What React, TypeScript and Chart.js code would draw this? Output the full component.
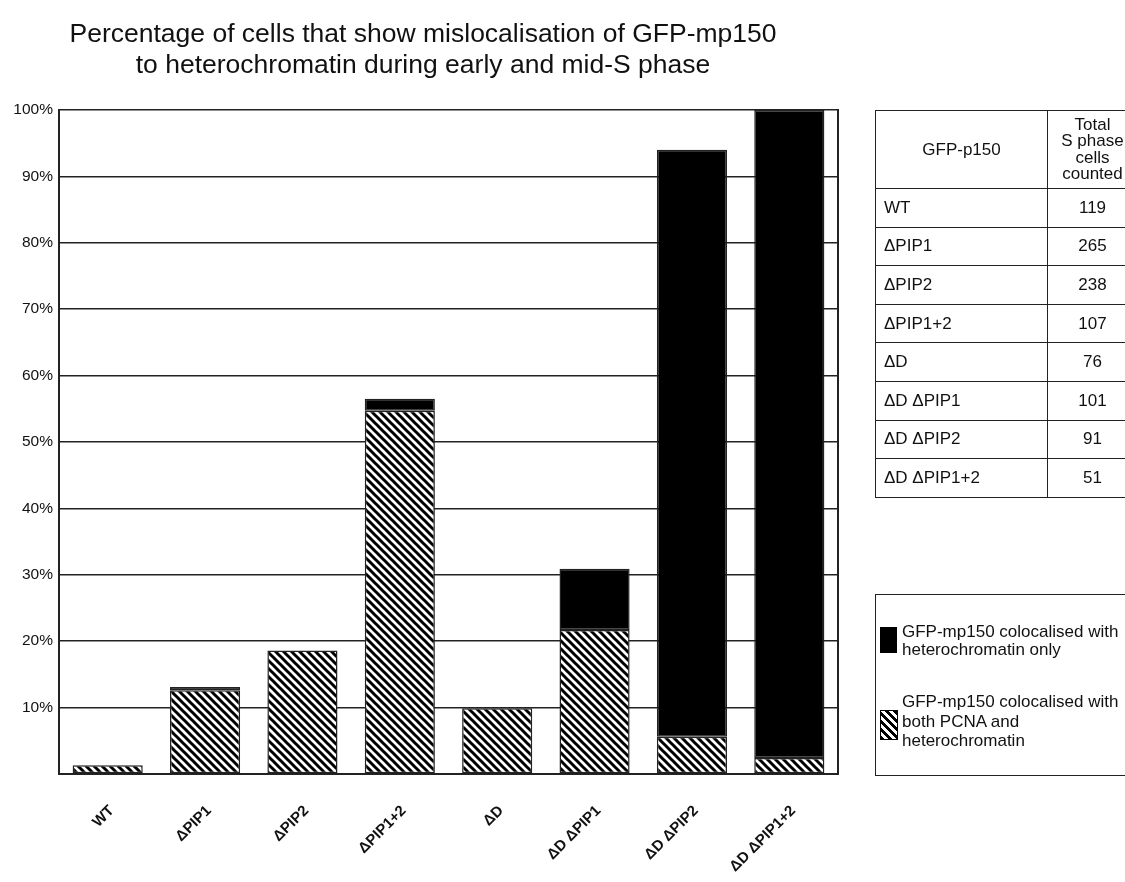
import React, { useEffect, useRef } from "react";
import { Chart, registerables } from "chart.js";

Chart.register(...registerables);

const titleLines = [
  "Percentage of cells that show mislocalisation of GFP-mp150",
  "to heterochromatin during early and mid-S phase",
];
const categories = ["WT", "ΔPIP1", "ΔPIP2", "ΔPIP1+2", "ΔD", "ΔD ΔPIP1", "ΔD ΔPIP2", "ΔD ΔPIP1+2"];
const bothPcnaHetero = [1.3, 12.6, 18.6, 54.7, 9.9, 21.7, 5.6, 2.4];
const heteroOnly: (number | null)[] = [null, 0.5, null, 1.8, null, 9.2, 88.4, 97.6];
const totalCounted = [119, 265, 238, 107, 76, 101, 91, 51];
const seriesNames = [
  "GFP-mp150 colocalised with both PCNA and heterochromatin",
  "GFP-mp150 colocalised with heterochromatin only",
];
const legendLines = [
  ["GFP-mp150 colocalised with", "heterochromatin only"],
  ["GFP-mp150 colocalised with", "both PCNA and", "heterochromatin"],
];
const tableHeader = ["GFP-p150", ["Total", "S phase", "cells", "counted"]];

const FONT = '"Liberation Sans", Arial, Helvetica, sans-serif';

function makeHatch(): CanvasPattern | string {
  const c = document.createElement("canvas");
  c.width = 8;
  c.height = 8;
  const g = c.getContext("2d");
  if (!g) return "#000";
  g.fillStyle = "#fff";
  g.fillRect(0, 0, 8, 8);
  g.strokeStyle = "#000";
  g.lineWidth = 3;
  g.lineCap = "square";
  for (const k of [-8, 0, 8]) {
    g.beginPath();
    g.moveTo(k, 0);
    g.lineTo(k + 8, 8);
    g.stroke();
  }
  const p = g.createPattern(c, "repeat");
  return p || "#000";
}

const rightBorder = {
  id: "rightBorder",
  afterDatasetsDraw(chart: any) {
    const { ctx, chartArea } = chart;
    ctx.save();
    ctx.strokeStyle = "#222";
    ctx.lineWidth = 2;
    ctx.beginPath();
    ctx.moveTo(chartArea.right, chartArea.top - 1);
    ctx.lineTo(chartArea.right, chartArea.bottom);
    ctx.stroke();
    ctx.restore();
  },
};

export default function App() {
  const ref = useRef<HTMLCanvasElement | null>(null);

  useEffect(() => {
    if (!ref.current) return;
    const hatch = makeHatch();
    const chart = new Chart(ref.current, {
      type: "bar",
      data: {
        labels: categories,
        datasets: [
          {
            label: seriesNames[0],
            data: bothPcnaHetero,
            backgroundColor: hatch as any,
            borderColor: "#222",
            borderWidth: 1.5,
            borderSkipped: false,
          },
          {
            label: seriesNames[1],
            data: heteroOnly as any,
            backgroundColor: "#000",
            borderColor: "#222",
            borderWidth: 1.5,
            borderSkipped: false,
          },
        ],
      },
      options: {
        responsive: false,
        animation: false,
        layout: { padding: { left: 0, right: 279, top: 0, bottom: 0 } },
        datasets: { bar: { categoryPercentage: 1, barPercentage: 0.72 } },
        plugins: {
          legend: { display: false },
          tooltip: { enabled: false },
          title: {
            display: true,
            text: titleLines,
            color: "#111",
            font: { family: FONT, size: 26.5, weight: "normal", lineHeight: 1.17 },
            padding: { top: 11.5, bottom: 28.5 },
          },
        },
        scales: {
          x: {
            stacked: true,
            grid: { display: false, drawTicks: false },
            border: { display: true, color: "#222", width: 2 },
            ticks: {
              autoSkip: false,
              maxRotation: 45,
              minRotation: 45,
              padding: 28,
              labelOffset: 4,
              color: "#111",
              font: { family: FONT, size: 15, weight: "bold" },
            },
            afterFit: (s: any) => {
              s.height = 100;
            },
          },
          y: {
            stacked: true,
            min: 0,
            max: 100,
            grid: { color: "#222", lineWidth: 1.6, drawTicks: false },
            border: { display: true, color: "#222", width: 2 },
            ticks: {
              stepSize: 10,
              padding: 6,
              color: "#111",
              font: { family: FONT, size: 15.5 },
              callback: (v: any) => (Number(v) === 0 ? "" : v + "%"),
            },
            afterFit: (s: any) => {
              s.width = 51;
            },
          },
        },
      },
      plugins: [rightBorder],
    });
    return () => chart.destroy();
  }, []);

  const cell: React.CSSProperties = {
    border: "1.5px solid #222",
    fontFamily: FONT,
    fontSize: 17,
    color: "#111",
    padding: 0,
  };

  return (
    <div style={{ position: "relative", width: 1109, height: 866 }}>
      <canvas ref={ref} width={1109} height={866} style={{ position: "absolute", left: 0, top: 0 }} />
      <div style={{ position: "fixed", left: 875, top: 110, width: 250, height: 400, overflow: "hidden" }}>
        <table
          style={{
            width: 262,
            borderCollapse: "collapse",
            tableLayout: "fixed",
          }}
        >
          <colgroup>
            <col style={{ width: 172 }} />
            <col style={{ width: 90 }} />
          </colgroup>
          <thead>
            <tr style={{ height: 78 }}>
              <th style={{ ...cell, fontWeight: "normal", textAlign: "center" }}>{tableHeader[0] as string}</th>
              <th style={{ ...cell, fontWeight: "normal", textAlign: "center", lineHeight: "16.5px" }}>
                {(tableHeader[1] as string[]).map((t, i) => (
                  <div key={i}>{t}</div>
                ))}
              </th>
            </tr>
          </thead>
          <tbody>
            {categories.map((c, i) => (
              <tr key={c} style={{ height: 38.6 }}>
                <td style={{ ...cell, textAlign: "left", paddingLeft: 8 }}>{c}</td>
                <td style={{ ...cell, textAlign: "center" }}>{totalCounted[i]}</td>
              </tr>
            ))}
          </tbody>
        </table>
      </div>
      <div style={{ position: "fixed", left: 875, top: 594, width: 250, height: 182, overflow: "hidden" }}>
        <div
          style={{
            position: "absolute",
            left: 0,
            top: 0,
            width: 262,
            height: 182,
            boxSizing: "border-box",
            border: "1.5px solid #222",
            fontFamily: FONT,
            fontSize: 17,
            color: "#111",
          }}
        >
          <div style={{ position: "absolute", left: 4, top: 32, width: 17, height: 26, background: "#000" }} />
          <div style={{ position: "absolute", left: 26, top: 28, lineHeight: "18px", whiteSpace: "nowrap" }}>
            {legendLines[0].map((t, i) => (
              <div key={i}>{t}</div>
            ))}
          </div>
          <div
            style={{
              position: "absolute",
              left: 4,
              top: 115,
              width: 18,
              height: 30,
              border: "1.5px solid #000",
              boxSizing: "border-box",
              background: "repeating-linear-gradient(45deg, #000 0 2.8px, #fff 2.8px 5.6px)",
            }}
          />
          <div style={{ position: "absolute", left: 26, top: 97, lineHeight: "19.5px", whiteSpace: "nowrap" }}>
            {legendLines[1].map((t, i) => (
              <div key={i}>{t}</div>
            ))}
          </div>
        </div>
      </div>
    </div>
  );
}
